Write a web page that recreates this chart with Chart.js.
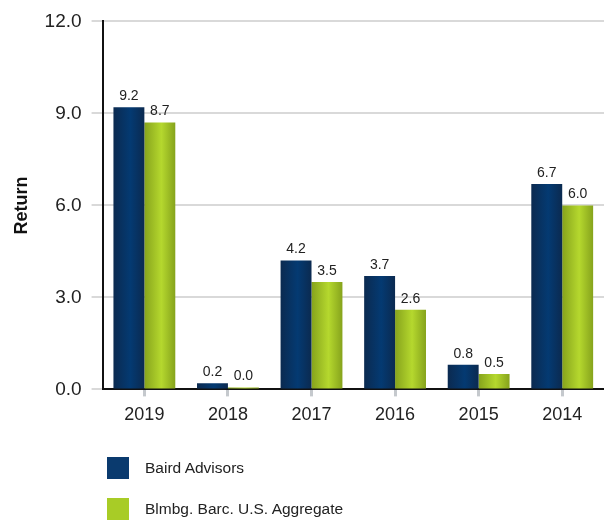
<!DOCTYPE html>
<html>
<head>
<meta charset="utf-8">
<script src="https://cdn.jsdelivr.net/npm/chart.js@4"></script>
<style>
	body { margin: 0; background: #fff; }
	#wrap { position: relative; width: 604px; height: 521px; }
	#legend { position: absolute; left: 107px; top: 457px; font-family: "Liberation Sans", Arial, sans-serif; font-size: 15.5px; color: #222; }
	#legend div { display: flex; align-items: center; height: 22px; margin-bottom: 19px; }
	#legend span.box { width: 22px; height: 22px; margin-right: 16px; display: inline-block; }
</style>
</head>
<body>
<div id="wrap">
	<canvas id="grafico" width="604" height="521"></canvas>
	<div id="legend"></div>
</div>
<script>
const anos = ['2019', '2018', '2017', '2016', '2015', '2014'];
const baird = [9.2, 0.2, 4.2, 3.7, 0.8, 6.7];
const blmbg = [8.7, 0.0, 3.5, 2.6, 0.5, 6.0];
const nomes = ['Baird Advisors', 'Blmbg. Barc. U.S. Aggregate'];
const yTicks = [0, 3, 6, 9, 12];

const cores = [
	{ solid: '#0a3a6e', edge: '#0b2a50', mid: '#043a72' },
	{ solid: '#a8cc26', edge: '#86a31c', mid: '#b5d82e' }
];

const catPct = 0.74;

function gradiente(dsIndex) {
	return function (ctx) {
		const chart = ctx.chart;
		const x = chart.scales.x;
		if (!x || ctx.dataIndex === undefined || !chart.chartArea) return cores[dsIndex].solid;
		const catW = x.width / anos.length;
		const barW = catW * catPct / 2;
		const centro = x.getPixelForValue(ctx.dataIndex);
		const x0 = dsIndex === 0 ? centro - barW : centro;
		const g = chart.ctx.createLinearGradient(x0, 0, x0 + barW, 0);
		g.addColorStop(0, cores[dsIndex].edge);
		g.addColorStop(0.55, cores[dsIndex].mid);
		g.addColorStop(1, cores[dsIndex].edge);
		return g;
	};
}

// rotulos em cima das barras
const rotulos = {
	id: 'rotulos',
	afterDatasetsDraw(chart) {
		const ctx = chart.ctx;
		ctx.save();
		ctx.font = '14px "Liberation Sans", Arial, sans-serif';
		ctx.fillStyle = '#222';
		ctx.textAlign = 'center';
		ctx.textBaseline = 'bottom';
		chart.data.datasets.forEach((ds, i) => {
			chart.getDatasetMeta(i).data.forEach((bar, j) => {
				ctx.fillText(ds.data[j].toFixed(1), bar.x, bar.y - 4);
			});
		});
		ctx.restore();
	}
};

const fonte = '"Liberation Sans", Arial, sans-serif';

new Chart(document.getElementById('grafico'), {
	type: 'bar',
	data: {
		labels: anos,
		datasets: [
			{ label: nomes[0], data: baird, backgroundColor: gradiente(0), barPercentage: 1, categoryPercentage: catPct, minBarLength: 2 },
			{ label: nomes[1], data: blmbg, backgroundColor: gradiente(1), barPercentage: 1, categoryPercentage: catPct, minBarLength: 2 }
		]
	},
	options: {
		responsive: false,
		animation: false,
		layout: { padding: { top: 2, right: 0, bottom: 87, left: 11 } },
		plugins: { legend: { display: false }, tooltip: { enabled: false } },
		scales: {
			x: {
				grid: { display: true, drawOnChartArea: false, drawTicks: true, offset: false, tickLength: 7, tickWidth: 3, tickColor: '#c5c9cd' },
				border: { display: true, color: '#111', width: 2 },
				ticks: { color: '#222', font: { family: fonte, size: 18 }, padding: 8 }
			},
			y: {
				min: 0,
				max: 12,
				afterBuildTicks: axis => { axis.ticks = yTicks.map(v => ({ value: v })); },
				grid: { color: '#d9d9d9', lineWidth: 2, tickLength: 11 },
				border: { display: true, color: '#111', width: 2 },
				ticks: { color: '#222', font: { family: fonte, size: 19 }, padding: 10, callback: v => v.toFixed(1) },
				title: { display: true, text: 'Return', color: '#111', font: { family: fonte, size: 18, weight: 'bold' }, padding: { top: 0, bottom: 2 } }
			}
		}
	},
	plugins: [rotulos]
});

const legend = document.getElementById('legend');
nomes.forEach((n, i) => {
	const d = document.createElement('div');
	d.innerHTML = '<span class="box" style="background:' + cores[i].solid + '"></span><span>' + n + '</span>';
	legend.appendChild(d);
});
</script>
</body>
</html>
